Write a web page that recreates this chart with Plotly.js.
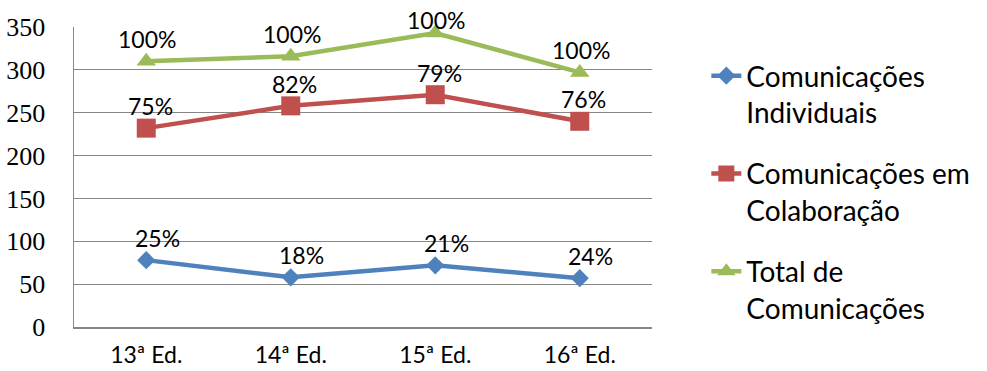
<!DOCTYPE html>
<html>
<head>
<meta charset="utf-8">
<script src="https://cdn.plot.ly/plotly-3.0.1.min.js"></script>
<style>
  html, body { margin: 0; padding: 0; background: #ffffff; }
  #chart { width: 987px; height: 371px; }
</style>
</head>
<body>
<div id="chart"></div>
<script>
// Editions on the x axis
const editions = ['13ª Ed.', '14ª Ed.', '15ª Ed.', '16ª Ed.'];

// Number of communications per edition
const individuais = [78, 58, 72, 57];
const colaboracao = [232, 258, 271, 240];
const total = [310, 316, 343, 297];

// Share labels shown above each point
const individuaisPct = ['25%', '18%', '21%', '24%'];
const colaboracaoPct = ['75%', '82%', '79%', '76%'];
const totalPct = ['100%', '100%', '100%', '100%'];

const seriesNames = [
  'Comunicações<br>Individuais',
  'Comunicações em<br>Colaboração',
  'Total de<br>Comunicações'
];

const Y_MAX = 350;
const MARGIN = { l: 74, r: 332, t: 27, b: 44, pad: 0 };
const PLOT_H = 371 - MARGIN.t - MARGIN.b;

function series(name, y, color, symbol, size, group) {
  return {
    type: 'scatter',
    mode: 'lines+markers',
    name: name,
    legendgroup: group,
    x: editions,
    y: y,
    cliponaxis: false,
    line: { color: color, width: 4.5 },
    marker: { color: color, symbol: symbol, size: size },
    hoverinfo: 'skip'
  };
}

const traces = [
  series(seriesNames[0], individuais, '#4F81BD', 'diamond', 14, 'a'),
  series(seriesNames[1], colaboracao, '#C0504D', 'square', 19, 'b'),
  series(seriesNames[2], total, '#9BBB59', 'triangle-up', 17, 'c')
];

// Value labels sit above each point; near the top edge they are pulled
// down so they stay inside the chart.
function labels(values, texts, xshift) {
  return values.map((v, i) => {
    const py = MARGIN.t + PLOT_H * (1 - v / Y_MAX);
    const shift = Math.min(22, py - 20);
    return {
      x: editions[i],
      y: v,
      xref: 'x',
      yref: 'y',
      text: texts[i],
      showarrow: false,
      xanchor: 'center',
      yanchor: 'middle',
      yshift: shift,
      xshift: xshift,
      font: { family: 'Lato, sans-serif', size: 23, color: '#000000' }
    };
  });
}

const annotations = [].concat(
  labels(individuais, individuaisPct, 11),
  labels(colaboracao, colaboracaoPct, 4),
  labels(total, totalPct, 1)
);

const layout = {
  width: 987,
  height: 371,
  margin: MARGIN,
  paper_bgcolor: '#ffffff',
  plot_bgcolor: '#ffffff',
  showlegend: true,
  annotations: annotations,
  legend: {
    x: 1.094,
    y: 0.92,
    xanchor: 'left',
    yanchor: 'top',
    valign: 'top',
    traceorder: 'grouped',
    tracegroupgap: 22,
    itemwidth: 30,
    font: { family: 'Lato, sans-serif', size: 28, color: '#000000' },
    bgcolor: 'rgba(0,0,0,0)'
  },
  xaxis: {
    type: 'category',
    range: [-0.5, 3.5],
    showgrid: false,
    showline: true,
    linecolor: '#868686',
    linewidth: 1.5,
    ticks: '',
    tickfont: { family: 'Lato, sans-serif', size: 23, color: '#000000' },
    ticklabelstandoff: 7,
    zeroline: false,
    fixedrange: true
  },
  yaxis: {
    range: [0, Y_MAX],
    dtick: 50,
    showgrid: true,
    gridcolor: '#868686',
    gridwidth: 1.2,
    showline: true,
    linecolor: '#868686',
    linewidth: 1.5,
    ticks: '',
    tickfont: { family: 'Times New Roman, Liberation Serif, DejaVu Serif, serif', size: 26, color: '#000000' },
    ticklabelstandoff: 22,
    zeroline: false,
    fixedrange: true
  }
};

Plotly.newPlot('chart', traces, layout, { displayModeBar: false, staticPlot: true });
</script>
</body>
</html>
